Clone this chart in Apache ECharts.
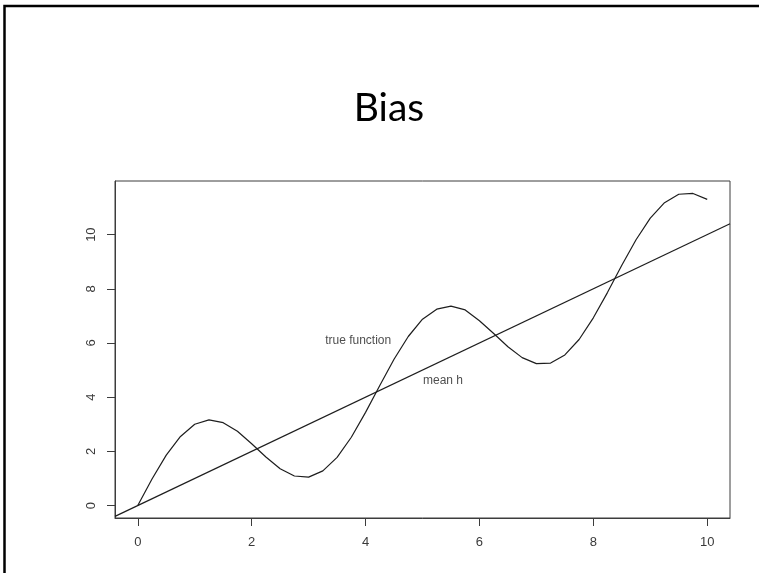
<!DOCTYPE html>
<html>
<head>
<meta charset="utf-8">
<title>Bias</title>
<script src="https://cdn.jsdelivr.net/npm/echarts@6/dist/echarts.min.js"></script>
<style>
  html, body { margin: 0; padding: 0; background: #ffffff; }
  #chart { width: 759px; height: 573px; }
</style>
</head>
<body>
<div id="chart"></div>
<script>
// True function sampled along x
const trueX = [0, 0.25, 0.5, 0.75, 1, 1.25, 1.5, 1.75, 2, 2.25, 2.5, 2.75, 3, 3.25, 3.5, 3.75,
  4, 4.25, 4.5, 4.75, 5, 5.25, 5.5, 5.75, 6, 6.25, 6.5, 6.75, 7, 7.25, 7.5, 7.75,
  8, 8.25, 8.5, 8.75, 9, 9.25, 9.5, 9.75, 10];
const trueY = [0, 0.98, 1.86, 2.55, 3.00, 3.16, 3.06, 2.74, 2.28, 1.79, 1.36, 1.09, 1.05, 1.28, 1.78, 2.52,
  3.44, 4.43, 5.40, 6.24, 6.88, 7.25, 7.36, 7.22, 6.82, 6.35, 5.86, 5.46, 5.24, 5.26, 5.56, 6.13,
  6.93, 7.87, 8.87, 9.81, 10.61, 11.18, 11.49, 11.52, 11.30];

// Mean hypothesis: straight line across the plotting range
const meanX = [-0.4, 10.4];
const meanY = [-0.4, 10.4];

// Tick labels
const xTicks = [0, 2, 4, 6, 8, 10];
const yTicks = [0, 2, 4, 6, 8, 10];

// Curve annotations (data coordinates, text centred)
const noteNames = ['true function', 'mean h'];
const noteX = [3.87, 5.36];
const noteY = [6.07, 4.60];

// Axis extents (R-style 4% padding around the data)
const X_MIN = -0.4, X_MAX = 10.4;
const Y_MIN = -0.46, Y_MAX = 11.98;

const zip = (xs, ys) => xs.map((x, i) => [x, ys[i]]);

const frameColor = '#3c3c3c';

const tickFont = {
  fontFamily: '"Liberation Sans", Arial, sans-serif',
  fontSize: 13,
  color: '#3a3a3a'
};

// Hidden helper axis whose zero sits on the plot edge, so the visible
// axis can anchor its line and ticks there through onZero
const edgeAxis = {
  type: 'value',
  min: 0,
  max: 1,
  show: true,
  axisLine: { show: false, onZero: false },
  axisTick: { show: false },
  axisLabel: { show: false },
  splitLine: { show: false }
};

const chart = echarts.init(document.getElementById('chart'), null, { renderer: 'canvas' });

chart.setOption({
  backgroundColor: '#ffffff',
  animation: false,
  title: {
    text: 'Bias',
    left: 384,
    top: 84,
    textAlign: 'center',
    textStyle: {
      fontFamily: 'Lato, "Open Sans", sans-serif',
      fontWeight: 'normal',
      fontSize: 39,
      color: '#000000'
    }
  },
  graphic: [{
    type: 'rect',
    shape: { x: 4.5, y: 6, width: 800, height: 620 },
    style: { fill: 'none', stroke: '#000000', lineWidth: 2.5 },
    silent: true
  }],
  grid: {
    left: 115,
    top: 181,
    width: 615,
    height: 337,
    show: true,
    borderColor: frameColor,
    borderWidth: 1,
    backgroundColor: 'transparent'
  },
  xAxis: [
    {
      type: 'value',
      position: 'bottom',
      min: X_MIN,
      max: X_MAX,
      axisLine: { show: true, onZero: true, onZeroAxisIndex: 1, lineStyle: { color: frameColor, width: 1 } },
      splitLine: { show: false },
      axisTick: {
        show: true,
        length: 8,
        customValues: xTicks,
        lineStyle: { color: frameColor, width: 1 }
      },
      axisLabel: Object.assign({
        margin: 18,
        customValues: xTicks
      }, tickFont)
    },
    Object.assign({ position: 'top' }, edgeAxis)
  ],
  yAxis: [
    {
      type: 'value',
      position: 'left',
      min: Y_MIN,
      max: Y_MAX,
      axisLine: { show: true, onZero: true, onZeroAxisIndex: 1, lineStyle: { color: frameColor, width: 1 } },
      splitLine: { show: false },
      axisTick: {
        show: true,
        length: 8,
        customValues: yTicks,
        lineStyle: { color: frameColor, width: 1 }
      },
      axisLabel: Object.assign({
        margin: 17,
        rotate: 90,
        customValues: yTicks
      }, tickFont)
    },
    Object.assign({ position: 'right' }, edgeAxis)
  ],
  series: [
    {
      name: 'true function',
      type: 'line',
      data: zip(trueX, trueY),
      showSymbol: false,
      symbol: 'none',
      lineStyle: { color: '#1e1e1e', width: 1.2 }
    },
    {
      name: 'mean h',
      type: 'line',
      data: zip(meanX, meanY),
      showSymbol: false,
      symbol: 'none',
      lineStyle: { color: '#1e1e1e', width: 1.2 }
    },
    {
      name: 'notes',
      type: 'scatter',
      symbolSize: 1,
      itemStyle: { color: 'rgba(0,0,0,0)' },
      data: noteNames.map((n, i) => ({ name: n, value: [noteX[i], noteY[i]] })),
      label: {
        show: true,
        position: 'inside',
        formatter: p => p.name,
        fontFamily: '"Liberation Sans", Arial, sans-serif',
        fontSize: 12,
        color: '#222222'
      }
    }
  ]
});
</script>
</body>
</html>
